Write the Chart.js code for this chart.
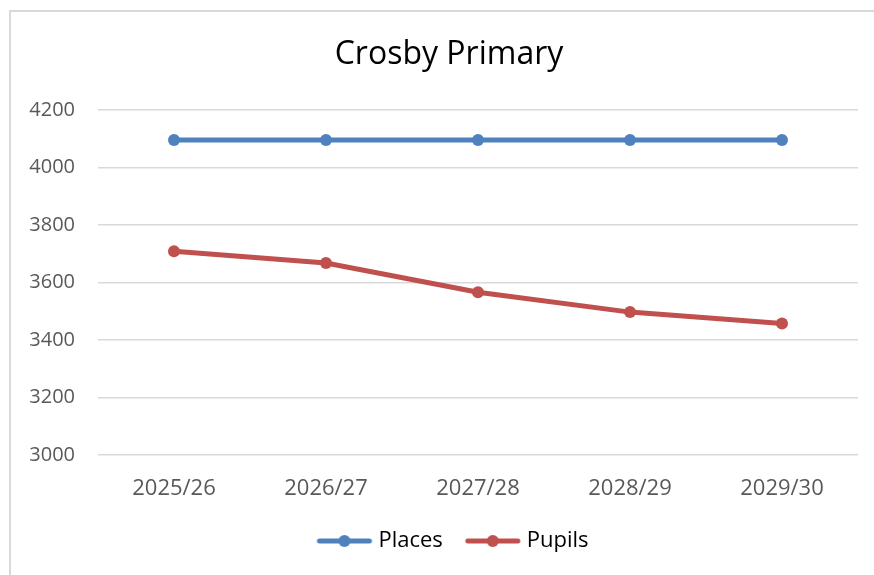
<!DOCTYPE html>
<html>
<head>
<meta charset="utf-8">
<script src="https://cdn.jsdelivr.net/npm/chart.js@4/dist/chart.umd.min.js"></script>
<style>
  html, body { margin: 0; padding: 0; background: #fff; }
  #frame { position: absolute; left: 9px; top: 10px; width: 900px; height: 600px;
           border-left: 2px solid #d9d9d9; border-top: 2px solid #d9d9d9; }
  #wrap { position: absolute; left: 0; top: 0; width: 874px; height: 575px; }
</style>
</head>
<body>
<div id="frame"></div>
<div id="wrap"><canvas id="myChart" width="874" height="575"></canvas></div>
<script>
const years = ['2025/26', '2026/27', '2027/28', '2028/29', '2029/30'];
const places = [4096, 4096, 4096, 4096, 4096];
const pupils = [3709, 3668, 3566, 3497, 3457];
const yMin = 3000, yMax = 4200, yStep = 200;

const blue = '#4f81bd';
const red = '#c0504d';
const font = "'Open Sans', sans-serif";

// legend marker: short line with a dot, pushed right so it sits close to the text
function legendMark(color) {
    let c = document.createElement('canvas');
    c.width = 70; c.height = 14;
    let g = c.getContext('2d');
    g.strokeStyle = color;
    g.lineWidth = 5;
    g.lineCap = 'round';
    g.beginPath();
    g.moveTo(16, 7); g.lineTo(66, 7);
    g.stroke();
    g.fillStyle = color;
    g.beginPath();
    g.arc(41, 7, 6, 0, Math.PI * 2);
    g.fill();
    return c;
}

let ctx = document.getElementById('myChart');
let myChart = new Chart(ctx, {
    type: 'line',
    data: {
        labels: years,
        datasets: [{
            label: 'Places',
            data: places,
            borderColor: blue,
            backgroundColor: blue,
            borderWidth: 5,
            pointRadius: 6,
            pointBorderWidth: 0,
            pointHoverRadius: 6,
            fill: false,
            tension: 0
        }, {
            label: 'Pupils',
            data: pupils,
            borderColor: red,
            backgroundColor: red,
            borderWidth: 5,
            pointRadius: 6,
            pointBorderWidth: 0,
            pointHoverRadius: 6,
            fill: false,
            tension: 0
        }]
    },
    options: {
        responsive: false,
        animation: false,
        layout: { padding: { left: 24, right: 0, top: 0, bottom: 13 } },
        plugins: {
            title: {
                display: true,
                text: 'Crosby Primary',
                color: '#000',
                font: { family: font, size: 32, weight: 'normal', lineHeight: 1.2 },
                padding: { top: 36, bottom: 35.6 }
            },
            legend: {
                position: 'bottom',
                labels: {
                    color: '#000',
                    font: { family: font, size: 22, lineHeight: 1.2 },
                    usePointStyle: true,
                    pointStyleWidth: 58,
                    boxHeight: 14,
                    padding: 15,
                    generateLabels: function (chart) {
                        return chart.data.datasets.map(function (d, i) {
                            return {
                                text: d.label,
                                datasetIndex: i,
                                pointStyle: legendMark(d.borderColor),
                                fillStyle: d.borderColor,
                                strokeStyle: d.borderColor,
                                lineWidth: 0,
                                fontColor: '#000'
                            };
                        });
                    }
                }
            },
            tooltip: { enabled: false }
        },
        scales: {
            x: {
                offset: true,
                grid: { display: false },
                border: { display: false },
                ticks: { color: '#595959', font: { family: font, size: 22 }, padding: 13 },
                afterFit: function (s) { s.height = 60; }
            },
            y: {
                min: yMin,
                max: yMax,
                grid: { color: '#d9d9d9', lineWidth: 1.5, drawTicks: false },
                border: { display: false },
                ticks: {
                    stepSize: yStep,
                    color: '#595959',
                    font: { family: font, size: 20 },
                    padding: 23,
                    callback: function (v) { return String(v); }
                },
                afterFit: function (s) { s.width = 74; }
            },
            // empty right axis, only keeps a gap at the right of the plot
            y2: {
                position: 'right',
                grid: { display: false },
                border: { display: false },
                ticks: { display: false },
                afterFit: function (s) { s.width = 16; }
            }
        }
    }
});
</script>
</body>
</html>
